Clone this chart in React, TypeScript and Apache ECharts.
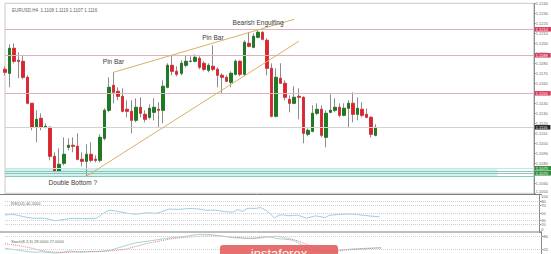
import { useEffect, useRef } from 'react';
import * as echarts from 'echarts';

// time slots: 83 H4 bars plus the empty space on the right of the chart
const categories: string[] = Array.from({ length: 118 }, (_, i) => `bar ${i + 1}`);

const opens = [
  1.1174, 1.1170, 1.1195, 1.1183, 1.1182, 1.1166, 1.1140, 1.1116, 1.1125, 1.1116,
  1.1116, 1.1087, 1.1072, 1.1080, 1.1096, 1.1098, 1.1097, 1.1084, 1.1082, 1.1089,
  1.1084, 1.1083, 1.1105, 1.1133, 1.1158, 1.1152, 1.1147, 1.1134, 1.1132, 1.1123,
  1.1136, 1.1129, 1.1126, 1.1131, 1.1134, 1.1133, 1.1156, 1.1178, 1.1172, 1.1170,
  1.1178, 1.1182, 1.1182, 1.1185, 1.1180, 1.1173, 1.1177, 1.1174, 1.1168, 1.1166,
  1.1161, 1.1169, 1.1182, 1.1169, 1.1200, 1.1196, 1.1206, 1.1211, 1.1203, 1.1175,
  1.1127, 1.1165, 1.1160, 1.1144, 1.1140, 1.1147, 1.1146, 1.1109, 1.1112, 1.1130,
  1.1134, 1.1106, 1.1131, 1.1133, 1.1136, 1.1128, 1.1135, 1.1140, 1.1129, 1.1134,
  1.1129, 1.1126, 1.1108,
];
const closes = [
  1.1171, 1.1195, 1.1182, 1.1182, 1.1166, 1.1140, 1.1116, 1.1124, 1.1116, 1.1117,
  1.1087, 1.1072, 1.1079, 1.1089, 1.1098, 1.1097, 1.1084, 1.1082, 1.1089, 1.1083,
  1.1083, 1.1106, 1.1133, 1.1156, 1.1151, 1.1147, 1.1132, 1.1132, 1.1123, 1.1136,
  1.1130, 1.1124, 1.1135, 1.1136, 1.1133, 1.1157, 1.1178, 1.1172, 1.1169, 1.1180,
  1.1182, 1.1182, 1.1186, 1.1176, 1.1174, 1.1178, 1.1174, 1.1168, 1.1166, 1.1162,
  1.1170, 1.1182, 1.1169, 1.1201, 1.1197, 1.1207, 1.1211, 1.1204, 1.1175, 1.1127,
  1.1166, 1.1160, 1.1146, 1.1140, 1.1146, 1.1146, 1.1110, 1.1113, 1.1130, 1.1134,
  1.1108, 1.1130, 1.1133, 1.1136, 1.1128, 1.1135, 1.1140, 1.1129, 1.1135, 1.1128,
  1.1126, 1.1109, 1.1116,
];
const lows = [
  1.1168, 1.1156, 1.1180, 1.1165, 1.1164, 1.1139, 1.1113, 1.1101, 1.1113, 1.1115,
  1.1083, 1.1071, 1.1071, 1.1078, 1.1093, 1.1091, 1.1083, 1.1077, 1.1067, 1.1081,
  1.1081, 1.1081, 1.1103, 1.1131, 1.1140, 1.1143, 1.1131, 1.1126, 1.1110, 1.1121,
  1.1126, 1.1121, 1.1124, 1.1123, 1.1116, 1.1120, 1.1155, 1.1168, 1.1167, 1.1168,
  1.1176, 1.1181, 1.1181, 1.1174, 1.1172, 1.1171, 1.1172, 1.1156, 1.1150, 1.1161,
  1.1156, 1.1168, 1.1167, 1.1167, 1.1196, 1.1195, 1.1205, 1.1203, 1.1168, 1.1126,
  1.1126, 1.1160, 1.1143, 1.1131, 1.1139, 1.1124, 1.1100, 1.1107, 1.1111, 1.1128,
  1.1106, 1.1096, 1.1130, 1.1131, 1.1126, 1.1127, 1.1116, 1.1121, 1.1123, 1.1126,
  1.1125, 1.1106, 1.1107,
];
const highs = [
  1.1177, 1.1199, 1.1200, 1.1191, 1.1188, 1.1168, 1.1140, 1.1133, 1.1130, 1.1120,
  1.1117, 1.1091, 1.1095, 1.1106, 1.1105, 1.1106, 1.1110, 1.1091, 1.1099, 1.1101,
  1.1088, 1.1109, 1.1135, 1.1166, 1.1171, 1.1156, 1.1155, 1.1143, 1.1143, 1.1145,
  1.1146, 1.1133, 1.1139, 1.1145, 1.1141, 1.1163, 1.1180, 1.1188, 1.1177, 1.1183,
  1.1188, 1.1187, 1.1189, 1.1187, 1.1182, 1.1180, 1.1198, 1.1176, 1.1170, 1.1168,
  1.1172, 1.1184, 1.1183, 1.1203, 1.1211, 1.1210, 1.1213, 1.1212, 1.1205, 1.1180,
  1.1175, 1.1180, 1.1163, 1.1148, 1.1157, 1.1155, 1.1147, 1.1115, 1.1138, 1.1140,
  1.1138, 1.1133, 1.1149, 1.1145, 1.1140, 1.1140, 1.1143, 1.1151, 1.1146, 1.1141,
  1.1135, 1.1127, 1.1119,
];

const rsiValues = [
  44.7, 46.0, 46.0, 43.4, 40.7, 38.1, 36.7, 35.9, 36.7, 35.4,
  32.8, 29.6, 31.4, 33.3, 34.9, 35.9, 35.9, 34.9, 35.4, 35.9,
  35.9, 44.7, 52.7, 58.0, 55.8, 53.4, 51.3, 49.2, 47.3, 47.3,
  49.2, 50.8, 50.0, 49.2, 51.9, 56.6, 60.6, 60.1, 59.8, 60.6,
  61.9, 61.9, 61.1, 59.8, 57.2, 57.4, 58.0, 56.1, 54.0, 52.7,
  52.7, 59.3, 54.0, 62.5, 62.5, 62.5, 64.6, 58.0, 48.7, 36.7,
  44.7, 45.2, 42.8, 43.4, 44.7, 40.7, 36.2, 39.4, 42.6, 40.7,
  37.5, 43.9, 45.2, 46.3, 46.8, 47.3, 47.3, 46.0, 44.7, 43.6,
  42.0, 41.0, 40.2,
];
const stochMain = [
  26, 23, 20, 17, 14, 11, 9, 8, 10, 8,
  6, 4, 6, 10, 13, 12, 9, 8, 11, 12,
  11, 12, 14, 17, 24, 30, 36, 42, 48, 53,
  55, 58, 61, 64, 67, 70, 73, 76, 77, 79,
  82, 86, 88.5, 89, 89, 88, 85, 82, 79, 76,
  74, 73, 72, 72, 72.5, 74, 77, 80, 77, 71,
  69, 67, 65, 62, 50, 38, 27, 18, 12, 10,
  10, 12, 15, 19, 20, 21.5, 22.5, 23.5, 25, 26,
  27, 28, 28.5,
];
const stochSignal = [
  47, 44, 41, 38.5, 34, 30, 26, 20, 16, 12,
  10, 9, 8, 7, 8, 9, 10, 11, 10, 10,
  11, 12, 13, 14, 16, 18, 21, 26, 32, 37,
  42, 48, 52, 56, 60, 64, 68, 71, 73, 75,
  77, 78.5, 80, 81, 82, 82.5, 82, 81, 80, 79,
  77, 75, 73, 71, 70, 71, 73, 76, 78, 81,
  78, 74, 70, 65, 58, 50, 42, 33, 25, 18,
  14, 12, 12, 14, 17, 19, 21, 22, 23.5, 24.5,
  25.5, 26.5, 27,
];

const resistanceLevels = [1.1214, 1.1188, 1.1150];
const supportLines = [1.1075, 1.1072, 1.1070, 1.1067];
const supportLabelled = [true, false, true, false];
const supportBand = [1.1075, 1.1067];
const supportBandEndIndex = 109;
const rsiLevels = [80, 70, 50, 30, 20];
const rsiAxisLabels = [0, 20, 30, 50, 70, 80, 100];
const stochLevels = [80, 20];
const stochAxisLabels = [20, 80, 100];

// trend lines: [start index, start price, end index, end price]
const lowerTrend = [18, 1.1067, 65, 1.1202];
const upperTrend = [24, 1.1171, 64, 1.1224];

const annotationTexts = ['Pin Bar', 'Pin Bar', 'Bearish Engulfing', 'Double Bottom ?'];
const annotationIndex = [24, 46, 56, 15];
const annotationPrice = [1.1182, 1.1206, 1.1221, 1.1061];

const FONT = 'Liberation Sans, Arial, sans-serif';
const GREEN = '#17801a';
const RED = '#e3202b';

export default function App() {
  const ref = useRef<HTMLDivElement>(null);

  useEffect(() => {
    const chart = echarts.init(ref.current!, null, { renderer: 'svg' });
    const ohlc = opens.map((o, i) => [o, closes[i], lows[i], highs[i]]);
    const bodies = opens.map((o, i) => [o, closes[i], Math.min(o, closes[i]), Math.max(o, closes[i])]);
    const last = closes[closes.length - 1];
    const fmt = (v: number) => v.toFixed(4);

    const levelLabel = (bg: string) => ({
      show: true,
      position: 'end',
      distance: 1,
      formatter: (p: any) => fmt(p.value),
      fontSize: 4,
      fontFamily: FONT,
      color: '#fff',
      backgroundColor: bg,
      padding: [0.5, 3, 0, 1],
    });

    const option: any = {
      animation: false,
      backgroundColor: '#ffffff',
      title: [
        { text: `EURUSD,H4  ${fmt(opens[82])} ${fmt(highs[82])} ${fmt(lows[82])} ${fmt(last)}`, left: 7, top: 3, textStyle: { fontSize: 4.5, color: '#666', fontWeight: 'normal', fontFamily: FONT } },
        { text: `RSI(14) ${rsiValues[82].toFixed(4)}`, left: 6, top: 196, textStyle: { fontSize: 4, color: '#666', fontWeight: 'normal', fontFamily: FONT } },
        { text: `Stoch(8,3,3) ${stochMain[82].toFixed(4)} ${stochSignal[82].toFixed(4)}`, left: 6, top: 234, textStyle: { fontSize: 4, color: '#666', fontWeight: 'normal', fontFamily: FONT } },
      ],
      grid: [
        { left: 5, top: 3.3, width: 537, height: 190, show: true, borderColor: '#c8c8c8', borderWidth: 1, backgroundColor: 'transparent' },
        { left: 5, top: 194.2, width: 537, height: 37.7 },
        { left: 5, top: 232, width: 537, height: 26.5 },
      ],
      xAxis: [0, 1, 2].map((g) => ({
        type: 'category',
        gridIndex: g,
        data: categories,
        boundaryGap: false,
        axisLine: { show: false },
        axisTick: { show: false },
        axisLabel: { show: false },
        splitLine: { show: false },
      })),
      yAxis: [
        {
          type: 'value', gridIndex: 0, position: 'right', min: 1.105, max: 1.124, interval: 0.001,
          axisLine: { show: true, lineStyle: { color: '#8c8c8c' } },
          axisTick: { show: true, length: 2, lineStyle: { color: '#8c8c8c' } },
          axisLabel: { fontSize: 4, color: '#666', margin: 2, fontFamily: FONT, verticalAlignMinLabel: 'bottom', formatter: (v: number) => v.toFixed(4) },
          splitLine: { show: false },
        },
        {
          type: 'value', gridIndex: 1, position: 'right', min: 0, max: 100,
          axisLine: { show: true, lineStyle: { color: '#8c8c8c' } },
          axisTick: { show: true, length: 2, customValues: rsiAxisLabels, lineStyle: { color: '#8c8c8c' } },
          axisLabel: { fontSize: 4, color: '#666', margin: 2, fontFamily: FONT, customValues: rsiAxisLabels, verticalAlignMaxLabel: 'top', verticalAlignMinLabel: 'bottom' },
          splitLine: { show: false },
        },
        {
          type: 'value', gridIndex: 2, position: 'right', min: 0, max: 100,
          axisLine: { show: true, lineStyle: { color: '#8c8c8c' } },
          axisTick: { show: true, length: 2, customValues: stochAxisLabels, lineStyle: { color: '#8c8c8c' } },
          axisLabel: { fontSize: 4, color: '#666', margin: 2, fontFamily: FONT, customValues: stochAxisLabels, verticalAlignMaxLabel: 'top' },
          splitLine: { show: false },
        },
      ],
      series: [
        {
          type: 'candlestick',
          name: 'wicks',
          xAxisIndex: 0,
          yAxisIndex: 0,
          data: ohlc,
          barWidth: 3,
          itemStyle: {
            color: 'rgba(0,0,0,0)', color0: 'rgba(0,0,0,0)',
            borderColor: '#8d8d8d', borderColor0: '#8d8d8d', borderColorDoji: '#8d8d8d', borderWidth: 1,
          },
          markArea: {
            silent: true,
            itemStyle: { color: 'rgba(196,238,234,0.75)' },
            data: [[{ xAxis: categories[0], yAxis: supportBand[0] }, { xAxis: categories[supportBandEndIndex], yAxis: supportBand[1] }]],
          },
          markLine: {
            silent: true,
            symbol: ['none', 'none'],
            precision: 4,
            data: [
              ...resistanceLevels.map((p) => ({ yAxis: p, lineStyle: { color: '#dcb2bb', width: 1, type: 'solid' }, label: levelLabel('#d63a5c') })),
              { yAxis: last, lineStyle: { color: '#d2d2d2', width: 1, type: 'solid' }, label: levelLabel('#222') },
              ...supportLines.map((p, i) => ({
                yAxis: p,
                lineStyle: { color: i === 0 ? '#c4e8e2' : '#86c9bc', width: 1, type: 'solid' },
                label: supportLabelled[i] ? levelLabel('#2f8f3c') : { show: false },
              })),
            ],
          },
          z: 2,
        },
        {
          type: 'candlestick',
          name: 'bodies',
          xAxisIndex: 0,
          yAxisIndex: 0,
          data: bodies,
          barWidth: 3,
          itemStyle: {
            color: GREEN, color0: RED,
            borderColor: '#0f6a12', borderColor0: RED, borderColorDoji: '#333', borderWidth: 0.6,
          },
          markLine: {
            silent: true,
            symbol: ['none', 'none'],
            label: { show: false },
            lineStyle: { color: '#d9b262', width: 1, type: 'solid' },
            data: [
              [{ coord: [categories[lowerTrend[0]], lowerTrend[1]] }, { coord: [categories[lowerTrend[2]], lowerTrend[3]] }],
              [{ coord: [categories[upperTrend[0]], upperTrend[1]] }, { coord: [categories[upperTrend[2]], upperTrend[3]] }],
            ],
          },
          markPoint: {
            silent: true,
            symbol: 'rect',
            symbolSize: 1,
            itemStyle: { color: 'rgba(0,0,0,0)' },
            label: { show: true, position: 'inside', formatter: '{b}', fontSize: 6.5, color: '#3a3a3a', fontFamily: FONT },
            data: annotationTexts.map((t, i) => ({ name: t, coord: [categories[annotationIndex[i]], annotationPrice[i]] })),
          },
          z: 3,
        },
        {
          type: 'line',
          name: 'RSI',
          xAxisIndex: 1,
          yAxisIndex: 1,
          data: rsiValues,
          symbol: 'none',
          lineStyle: { color: '#9ecde0', width: 1 },
          markLine: {
            silent: true,
            symbol: ['none', 'none'],
            label: { show: false },
            lineStyle: { color: '#cfcfcf', width: 1, type: 'dotted' },
            data: rsiLevels.map((v) => ({ yAxis: v })),
          },
        },
        {
          type: 'line',
          name: 'Stoch main',
          xAxisIndex: 2,
          yAxisIndex: 2,
          data: stochMain,
          symbol: 'none',
          lineStyle: { color: '#a3d4d6', width: 1 },
          markLine: {
            silent: true,
            symbol: ['none', 'none'],
            label: { show: false },
            lineStyle: { color: '#cfcfcf', width: 1, type: 'dotted' },
            data: stochLevels.map((v) => ({ yAxis: v })),
          },
        },
        {
          type: 'line',
          name: 'Stoch signal',
          xAxisIndex: 2,
          yAxisIndex: 2,
          data: stochSignal,
          symbol: 'none',
          lineStyle: { color: '#e07f7f', width: 1, type: 'dotted' },
        },
      ],
      graphic: [
        { type: 'line', z: 50, shape: { x1: 0, y1: 194.5, x2: 542, y2: 194.5 }, style: { stroke: '#7d7d7d', lineWidth: 1 } },
        { type: 'line', z: 50, shape: { x1: 0, y1: 232, x2: 542, y2: 232 }, style: { stroke: '#7d7d7d', lineWidth: 1 } },
        { type: 'rect', z: 100, shape: { x: 220, y: 245, width: 118, height: 14, r: 3 }, style: { fill: 'rgba(226,92,92,0.88)' } },
        { type: 'text', z: 101, x: 279, y: 246.5, style: { text: 'instaforex', fill: 'rgba(255,255,255,0.95)', fontSize: 13, fontFamily: FONT, align: 'center', verticalAlign: 'top' } },
      ],
    };

    chart.setOption(option);
    return () => chart.dispose();
  }, []);

  return <div ref={ref} style={{ position: 'fixed', left: 0, top: 0, width: 551, height: 254, background: '#fff' }} />;
}
